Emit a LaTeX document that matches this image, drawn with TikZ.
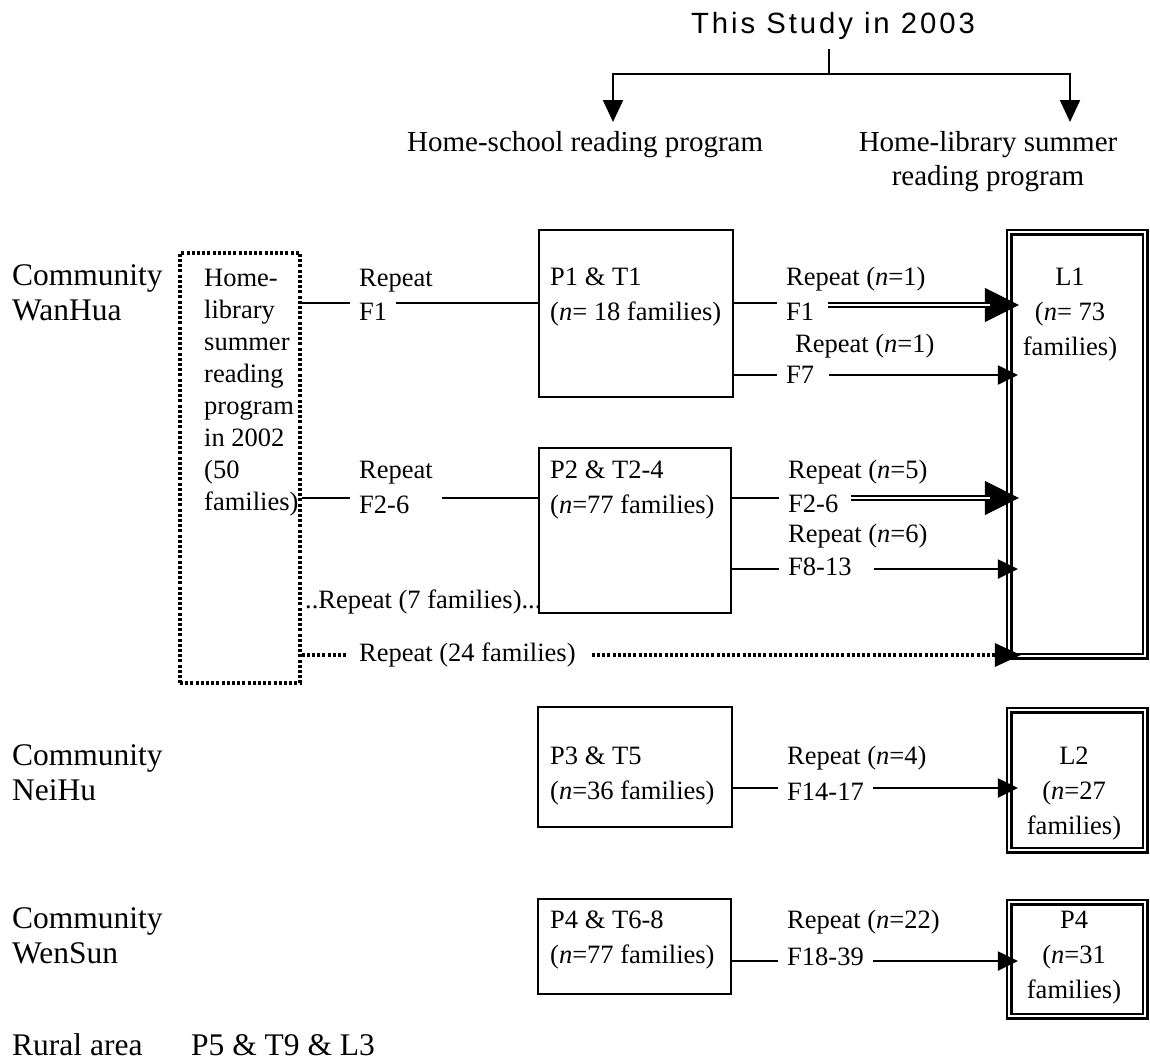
\documentclass[tikz,border=0pt]{standalone}
\usepackage{fontspec}
\setmainfont{Liberation Serif}
\newfontfamily\titlefont[LetterSpace=10]{Liberation Sans}
\usetikzlibrary{arrows.meta}
\newcommand\fbig{\fontsize{31.5}{35}\selectfont}
\newcommand\fhead{\fontsize{29}{34}\selectfont}
\newcommand\ftxt{\fontsize{26.5}{35}\selectfont}
\newcommand\fdb{\fontsize{26.5}{32}\selectfont}
\newcommand\fttl{\titlefont\fontsize{29.3}{34}\selectfont}
\newcommand\lft[1]{\begin{tabular}[t]{@{}l@{}}#1\end{tabular}}
\newcommand\ctr[1]{\begin{tabular}[t]{@{}c@{}}#1\end{tabular}}
\begin{document}
\begin{tikzpicture}[x=1pt,y=-1pt,
  txt/.style={font=\ftxt, inner sep=0pt, anchor=base west},
  lbl/.style={font=\ftxt, inner xsep=9pt, inner ysep=0pt, anchor=base west},
  big/.style={font=\fbig, inner sep=0pt, anchor=base west},
  box/.style={draw, line width=2.3pt, inner sep=0pt},
  lbox/.style={draw, double, line width=2.2pt, double distance=2.6pt, inner sep=0pt},
  dotbox/.style={draw, line width=3.2pt, dash pattern=on 3pt off 2.2pt, inner sep=0pt},
  conn/.style={line width=2.1pt},
  arr/.style={conn, -{Triangle[length=20pt,width=19pt]}, shorten >=-10pt},
  bigarr/.style={line width=1pt, -{Triangle[length=34pt,width=34pt]}, shorten >=-11pt},
  dbl/.style={double, line width=2pt, double distance=2.6pt},
  dotline/.style={line width=3.2pt, dash pattern=on 3pt off 2.2pt},
  dotarr/.style={dotline, -{Triangle[length=26pt,width=23pt]}, shorten >=-13pt},
  ttlarr/.style={conn, -{Triangle[length=22pt,width=20pt]}}
]
\useasboundingbox (0,0) rectangle (1150,1061);

% title and tree
\node[font=\fttl, inner sep=0pt, anchor=base] (title) at (833,33) {This Study in 2003};
\coordinate (tj) at (829,74);
\coordinate (tipL) at (613,122);
\coordinate (tipR) at (1070,122);
\draw[conn, shorten <=10pt] (title.south -| tj) -- (tj);
\draw[ttlarr] (tj) -| (tipL);
\draw[ttlarr] (tj) -| (tipR);
\node[font=\fhead, inner sep=0pt, anchor=base west] (hs) at (407,151) {Home-school reading program};
\node[font=\fhead, inner sep=0pt, anchor=base] (hl) at (988,151) {\ctr{Home-library summer\\reading program}};

% left labels
\node[big] (cW) at (12,285) {\lft{Community\\WanHua}};
\node[big] (cN) at (12,765) {\lft{Community\\NeiHu}};
\node[big] (cS) at (12,928) {\lft{Community\\WenSun}};
\node[big] (ra) at (12,1055) {Rural area};
\node[big] (p5) at (191,1055) {P5 \& T9 \& L3};

% dotted box
\node[dotbox, minimum width=120pt, minimum height=430pt] (db) at (240,468) {};
\node[font=\fdb, inner sep=0pt, anchor=base west] (dbt) at (204,286)
  {\lft{Home-\\library\\summer\\reading\\program\\in 2002\\(50\\families)}};

% boxes
\node[box, minimum width=194pt, minimum height=167pt] (P1) at (636,313.5) {};
\node[box, minimum width=192pt, minimum height=165pt] (P2) at (635,530.5) {};
\node[box, minimum width=194pt, minimum height=120pt] (P3) at (635,767) {};
\node[box, minimum width=193pt, minimum height=95pt] (P4) at (634.5,946.5) {};
\node[txt] (P1t) at (550,285) {\lft{P1 \& T1\\(\textit{n}= 18 families)}};
\node[txt] (P2t) at (550,478) {\lft{P2 \& T2-4\\(\textit{n}=77 families)}};
\node[txt] (P3t) at (550,764) {\lft{P3 \& T5\\(\textit{n}=36 families)}};
\node[txt] (P4t) at (550,928) {\lft{P4 \& T6-8\\(\textit{n}=77 families)}};

\node[lbox, minimum width=136pt, minimum height=424pt] (L1) at (1077,444) {};
\node[lbox, minimum width=136pt, minimum height=140pt] (L2) at (1077,780) {};
\node[lbox, minimum width=136pt, minimum height=114pt] (L4) at (1077,959) {};
\node[font=\ftxt, inner sep=0pt, anchor=base] (L1t) at (1070,285) {\ctr{L1\\(\textit{n}= 73\\families)}};
\node[font=\ftxt, inner sep=0pt, anchor=base] (L2t) at (1074,764) {\ctr{L2\\(\textit{n}=27\\families)}};
\node[font=\ftxt, inner sep=0pt, anchor=base] (L4t) at (1074,928) {\ctr{P4\\(\textit{n}=31\\families)}};

% row coordinates
\coordinate (y1) at (0,303);
\coordinate (y1b) at (0,305);
\coordinate (y2) at (0,375);
\coordinate (y3) at (0,498);
\coordinate (y4) at (0,569);
\coordinate (y5) at (0,655);
\coordinate (y6) at (0,788);
\coordinate (y7) at (0,961);

% row 1 left
\node[txt] (rpL1) at (359,286) {Repeat};
\node[lbl] (fL1) at (350,320) {F1};
\draw[conn] (db.east |- y1) -- (fL1.west |- y1);
\draw[conn] (fL1.east |- y1) -- (P1.west |- y1);

% row 1 right
\node[txt] (rpR1) at (786,285) {Repeat (\textit{n}=1)};
\node[lbl] (fR1) at (777,320) {F1};
\draw[conn] (P1.east |- y1) -- (fR1.west |- y1);
\draw[bigarr, shorten <=5pt] (fR1.east |- y1b) -- (L1.west |- y1b);
\draw[dbl, shorten <=5pt, shorten >=18pt] (fR1.east |- y1b) -- (L1.west |- y1b);

\node[txt] (rpR2) at (795,352) {Repeat (\textit{n}=1)};
\node[lbl] (fR2) at (777,383) {F7};
\draw[conn] (P1.east |- y2) -- (fR2.west |- y2);
\draw[arr, shorten <=6pt] (fR2.east |- y2) -- (L1.west |- y2);

% row 2 left
\node[txt] (rpL2) at (359,478) {Repeat};
\node[lbl] (fL2) at (350,513) {F2-6};
\draw[conn] (db.east |- y3) -- (fL2.west |- y3);
\draw[conn, shorten <=24pt] (fL2.east |- y3) -- (P2.west |- y3);

% row 2 right
\node[txt] (rpR3) at (788,478) {Repeat (\textit{n}=5)};
\node[lbl] (fR3) at (779,512) {F2-6};
\draw[conn] (P2.east |- y3) -- (fR3.west |- y3);
\draw[bigarr, shorten <=4pt] (fR3.east |- y3) -- (L1.west |- y3);
\draw[dbl, shorten <=4pt, shorten >=18pt] (fR3.east |- y3) -- (L1.west |- y3);

\node[txt] (rpR4) at (788,542) {Repeat (\textit{n}=6)};
\node[lbl] (fR4) at (779,575) {F8-13};
\draw[conn] (P2.east |- y4) -- (fR4.west |- y4);
\draw[arr, shorten <=13pt] (fR4.east |- y4) -- (L1.west |- y4);

% repeat 7 families
\node[txt] (rp7) at (305,608) {..Repeat (7 families)...};

% dotted repeat 24
\node[font=\ftxt, inner xsep=13pt, inner ysep=0pt, anchor=base west] (rp24) at (346,661) {Repeat (24 families)};
\draw[dotline] (db.east |- y5) -- (rp24.west |- y5);
\draw[dotarr, shorten <=3pt] (rp24.east |- y5) -- (L1.west |- y5);

% row 3
\node[txt] (rpR6) at (787,764) {Repeat (\textit{n}=4)};
\node[lbl] (fR6) at (778,800) {F14-17};
\draw[conn] (P3.east |- y6) -- (fR6.west |- y6);
\draw[arr] (fR6.east |- y6) -- (L2.west |- y6);

% row 4
\node[txt] (rpR7) at (787,928) {Repeat (\textit{n}=22)};
\node[lbl] (fR7) at (778,965) {F18-39};
\draw[conn] (P4.east |- y7) -- (fR7.west |- y7);
\draw[arr] (fR7.east |- y7) -- (L4.west |- y7);
\end{tikzpicture}
\end{document}
